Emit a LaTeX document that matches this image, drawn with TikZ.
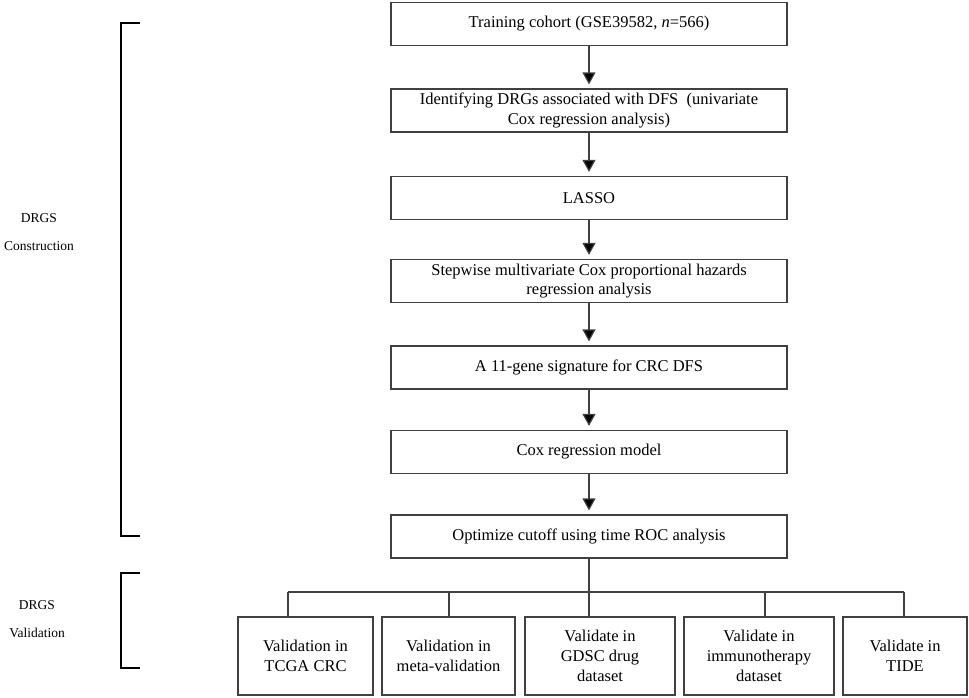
\documentclass[tikz,border=0pt]{standalone}
\usepackage{fontspec}
\setmainfont{Liberation Serif}
\usepackage{tikz}
\usetikzlibrary{positioning, arrows.meta}

\begin{document}
\begin{tikzpicture}[x=1pt,y=-1pt,
  stepbox/.style={draw=black!75, line width=1.2pt, minimum width=396pt, minimum height=43pt, align=center, inner sep=2pt, font=\fontsize{16.5}{19.5}\selectfont},
  valbox/.style={draw=black!75, line width=1.2pt, minimum height=78pt, align=center, inner sep=2pt, font=\fontsize{16.5}{20}\selectfont},
  arr/.style={draw=black!75, line width=1.2pt, shorten >=4pt, -{Triangle[length=12pt,width=13pt,fill=black]}},
  link/.style={draw=black!75, line width=1.2pt},
  brk/.style={line width=2pt, black},
  side/.style={align=center, font=\fontsize{13.5}{28}\selectfont}]
\useasboundingbox (0,0) rectangle (969,697);

% construction steps
\node[stepbox] (train) at (589,24) {Training cohort (GSE39582, \textit{n}=566)};
\node[stepbox] (univ) at (589,110.5) {Identifying DRGs associated with DFS\ \ (univariate\\Cox regression analysis)};
\node[stepbox] (lasso) at (589,198) {LASSO};
\node[stepbox] (step) at (589,281) {Stepwise multivariate Cox proportional hazards\\regression analysis};
\node[stepbox] (sig) at (589,367.5) {A 11-gene signature for CRC DFS};
\node[stepbox] (model) at (589,452) {Cox regression model};
\node[stepbox] (opt) at (589,536.5) {Optimize cutoff using time ROC analysis};

% arrows between steps
\foreach \a/\b in {train/univ, univ/lasso, lasso/step, step/sig, sig/model, model/opt}{
  \draw[arr] (\a.south) -- (\b.north);
}

% validation boxes
\node[valbox, minimum width=135pt] (tcga) at (305.5,656) {Validation in\\TCGA CRC};
\node[valbox, minimum width=133pt] (meta) at (448.5,656) {Validation in\\meta-validation};
\node[valbox, minimum width=150pt] (gdsc) at (600,656) {Validate in\\GDSC drug\\dataset};
\node[valbox, minimum width=150pt] (immu) at (759,656) {Validate in\\immunotherapy\\dataset};
\node[valbox, minimum width=124pt] (tide) at (905,656) {Validate in\\TIDE};

% branching lines
\coordinate (d1) at (288,592);
\coordinate (d2) at (449,592);
\coordinate (d3) at (589,592);
\coordinate (d4) at (765,592);
\coordinate (d5) at (904,592);
\draw[link] (opt.south) -- (d3);
\draw[link] (d1) -- (d5);
\foreach \d/\n in {d1/tcga, d2/meta, d3/gdsc, d4/immu, d5/tide}{
  \draw[link] (\d) -- (\d |- \n.north);
}

% brackets
\draw[brk] (140,23) -- (121,23) -- (121,536) -- (140,536);
\draw[brk] (140,573) -- (121,573) -- (121,668) -- (140,668);
\node[side] (cons) at (39,232) {DRGS\\Construction};
\node[side] (vali) at (37,619) {DRGS\\Validation};
\end{tikzpicture}
\end{document}
